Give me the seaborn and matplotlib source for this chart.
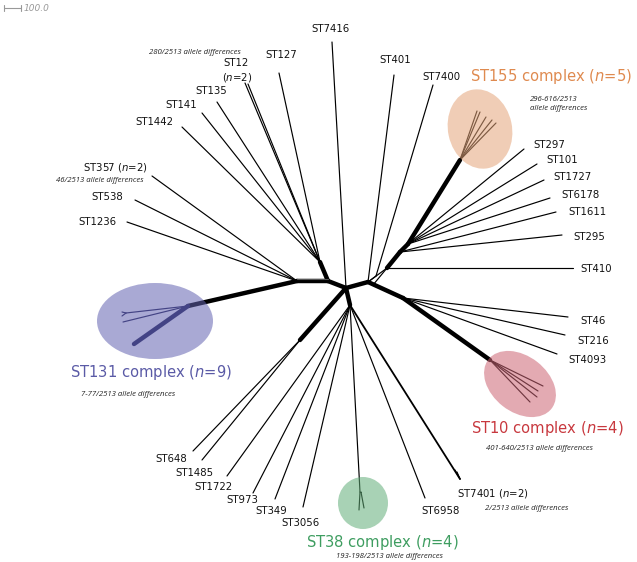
import matplotlib
matplotlib.use("Agg")
import matplotlib.pyplot as plt
from matplotlib.patches import Ellipse
import seaborn as sns
import pandas as pd

sns.set_theme(style="white")
plt.rcParams["font.family"] = ["DejaVu Sans"]
plt.rcParams["mathtext.fontset"] = "custom"
plt.rcParams["mathtext.it"] = "DejaVu Sans:italic"
plt.rcParams["mathtext.rm"] = "DejaVu Sans"

# ---------------- data: tree layout (pixel space of the original figure) ----------------
node_names = ["C", "M", "L", "H1", "R1", "R1a", "R1b", "R1c", "R2", "R2b", "S155", "R10", "S10",
              "B", "BL", "S131", "A131", "S38", "F38", "T7401"]
node_x = [346, 328, 297, 320, 368, 376, 387, 373, 400, 408, 460, 403, 490,
          350, 300, 188, 126, 360, 361, 460]
node_y = [288, 281, 281, 262, 282, 276, 268, 285, 252, 244, 160, 298, 360,
          305, 340, 306, 313, 492, 492, 479]

tip_labels = ["ST7416", "ST127", "ST12a", "ST12b", "ST135", "ST141", "ST1442", "ST357", "ST538", "ST1236",
              "ST401", "ST7400", "ST297", "ST101", "ST1727", "ST6178", "ST1611", "ST295", "ST410",
              "ST46", "ST216", "ST4093", "ST648", "ST1485", "ST1722", "ST973", "ST349", "ST3056",
              "ST6958", "ST7401a", "ST7401b",
              "c155a", "c155b", "c155c", "c155d", "c155e",
              "c10a", "c10b", "c10c", "c10d",
              "c131a", "c131b", "c131c", "c131d",
              "c38a", "c38b"]
tip_x = [332, 279, 245, 248, 217, 202, 182, 152, 135, 127,
         394, 433, 524, 537, 544, 550, 556, 562, 573,
         568, 565, 557, 193, 202, 227, 253, 275, 303,
         425, 455, 457,
         477, 480, 486, 492, 496,
         543, 538, 537, 530,
         134, 122, 122, 123,
         359, 364]
tip_y = [42, 73, 83, 84, 102, 113, 127, 176, 200, 222,
         75, 85, 149, 164, 180, 198, 212, 235, 268,
         317, 335, 354, 451, 460, 476, 493, 499, 507,
         498, 470, 472,
         111, 112, 117, 120, 123,
         386, 391, 397, 402,
         344, 312, 316, 322,
         510, 508]
tip_parent = ["C", "H1", "H1", "H1", "H1", "H1", "H1", "L", "L", "L",
              "R1", "R1a", "R2b", "R2b", "R2b", "R2b", "R2", "R2", "R1b",
              "R10", "R10", "R10", "BL", "BL", "B", "B", "B", "B",
              "B", "T7401", "T7401",
              "S155", "S155", "S155", "S155", "S155",
              "S10", "S10", "S10", "S10",
              "S131", "A131", "A131", "S131",
              "S38", "F38"]
tip_width = ["thin"] * 40 + ["thick", "thin", "thin", "thin", "thin", "thin"]

# internal branches
branch_from = ["C", "M", "M", "L", "M", "C", "R1", "R1c", "R1", "R1b", "R2", "R2b", "R1", "R10",
               "C", "C", "S131", "B", "F38", "B"]
branch_to = ["M", "L", "H1", "S131", "H1", "R1", "R1b", "R1b", "R1a", "R2", "R2b", "S155", "R10", "S10",
             "B", "BL", "A131", "S38", "S38", "T7401"]
branch_width = ["thick", "thick", "thick", "thick", "thin", "thick", "thin", "thin", "thin", "thick", "thick",
                "thick", "thick", "thick", "thick", "thick", "thin", "thin", "thin", "mid"]

# label text and placement
label_text = {"ST7416": "ST7416", "ST127": "ST127", "ST135": "ST135", "ST141": "ST141", "ST1442": "ST1442",
              "ST538": "ST538", "ST1236": "ST1236", "ST401": "ST401", "ST7400": "ST7400",
              "ST297": "ST297", "ST101": "ST101", "ST1727": "ST1727", "ST6178": "ST6178",
              "ST1611": "ST1611", "ST295": "ST295", "ST410": "ST410", "ST46": "ST46", "ST216": "ST216",
              "ST4093": "ST4093", "ST648": "ST648", "ST1485": "ST1485", "ST1722": "ST1722",
              "ST973": "ST973", "ST349": "ST349", "ST3056": "ST3056", "ST6958": "ST6958"}
label_xy = {"ST7416": (331, 29), "ST127": (281, 55), "ST135": (211, 91), "ST141": (181, 105),
            "ST1442": (154, 122), "ST538": (107, 197), "ST1236": (97, 222), "ST401": (395, 60),
            "ST7400": (441, 77), "ST297": (549, 145), "ST101": (562, 160), "ST1727": (573, 177),
            "ST6178": (580, 195), "ST1611": (587, 212), "ST295": (589, 237), "ST410": (596, 269),
            "ST46": (593, 321), "ST216": (593, 341), "ST4093": (587, 360), "ST648": (171, 459),
            "ST1485": (194, 473), "ST1722": (213, 487), "ST973": (242, 500), "ST349": (271, 511),
            "ST3056": (300, 523), "ST6958": (441, 511)}

complexes = ["ST155", "ST131", "ST10", "ST38"]
complex_n = [5, 9, 4, 4]
complex_diff = ["296-616/2513\nallele differences", "7-77/2513 allele differences",
                "401-640/2513 allele differences", "193-198/2513 allele differences"]
complex_color = ["#df8a4f", "#5a5aa6", "#c8383e", "#3e9d60"]
complex_fill = ["#e5a57a", "#6363b1", "#cc6474", "#61ad78"]

# ---------------- build segments table ----------------
pos = dict(zip(node_names, zip(node_x, node_y)))
rows = []
eid = 0
for a, b, w in zip(branch_from, branch_to, branch_width):
    col = "navy" if a in ("S131",) else "k"
    for (x, y) in (pos[a], pos[b]):
        rows.append(dict(edge=eid, x=x, y=y, w=w, c=col))
    eid += 1
cluster_col = {"S131": "navy", "A131": "navy"}
for name, x, y, p, w in zip(tip_labels, tip_x, tip_y, tip_parent, tip_width):
    col = cluster_col.get(p, "k")
    for (xx, yy) in (pos[p], (x, y)):
        rows.append(dict(edge=eid, x=xx, y=yy, w=w, c=col))
    eid += 1
df = pd.DataFrame(rows)

# ---------------- draw ----------------
fig = plt.figure(figsize=(6.37, 5.62), dpi=100)
ax = fig.add_axes([0, 0, 1, 1])
sns.lineplot(data=df, x="x", y="y", units="edge", estimator=None, sort=False,
             hue="c", palette={"k": "black", "navy": "#1e1e50"},
             size="w", sizes={"thin": 0.85, "mid": 1.3, "thick": 3.2},
             legend=False, ax=ax, solid_capstyle="round")
# reticulation parallel on left
ax.plot([297, 328], [278.5, 278.5], color="#555555", lw=0.8, zorder=2)

ax.set_xlim(0, 637)
ax.set_ylim(562, 0)
ax.axis("off")

# ellipses
ell = [((480, 129), 64, 80, -12), ((155, 321), 116, 76, 0), ((520, 384), 80, 56, 38), ((363, 503), 50, 52, 0)]
for (cxy, w, h, ang), fc in zip(ell, complex_fill):
    ax.add_patch(Ellipse(cxy, w, h, angle=ang, facecolor=fc, edgecolor="none", alpha=0.55, zorder=3))

# tip labels
for k, t in label_text.items():
    x, y = label_xy[k]
    ax.text(x, y, t, ha="center", va="center", fontsize=7.3, color="#111111")
ax.text(236, 63, "ST12", ha="center", va="center", fontsize=7.3, color="#111111")
ax.text(237, 77, r"($n$=2)", ha="center", va="center", fontsize=7.3, color="#111111")
ax.text(115, 167, r"ST357 ($n$=2)", ha="center", va="center", fontsize=7.3, color="#111111")
ax.text(457, 493, r"ST7401 ($n$=2)", ha="left", va="center", fontsize=7.3, color="#111111")

# complex labels
cl_pos = [(470, 77), (70, 373), (471, 428), (306, 543)]
for name, n, col, (x, y) in zip(complexes, complex_n, complex_color, cl_pos):
    ax.text(x, y, f"{name} complex ($n$={n})", ha="left", va="center", fontsize=10.6, color=col)

ifont = dict(family="Open Sans", style="italic", fontsize=5.6, color="#222222")
ax.text(530, 104, complex_diff[0], ha="left", va="center", linespacing=1.45, **ifont)
ax.text(128, 394, complex_diff[1], ha="center", va="center", **ifont)
ax.text(539, 448, complex_diff[2], ha="center", va="center", **ifont)
ax.text(390, 556, complex_diff[3], ha="center", va="center", **ifont)
ax.text(195, 52, "280/2513 allele differences", ha="center", va="center", **ifont)
ax.text(100, 180, "46/2513 allele differences", ha="center", va="center", **ifont)
ax.text(527, 508, "2/2513 allele differences", ha="center", va="center", **ifont)

# scale bar
ax.plot([4, 21], [8, 8], color="#999999", lw=0.8)
ax.plot([4, 4], [5, 11], color="#999999", lw=0.8)
ax.plot([21, 21], [5, 11], color="#999999", lw=0.8)
ax.text(24, 8.5, "100.0", ha="left", va="center", fontsize=6.5, style="italic", color="#999999")

fig.savefig("out.png", dpi=100)
